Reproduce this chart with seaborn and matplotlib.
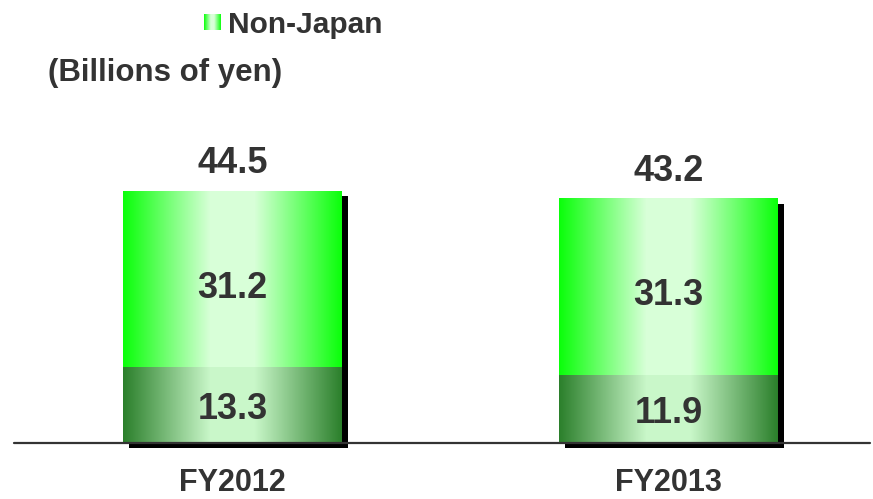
import numpy as np
import pandas as pd
import matplotlib
matplotlib.use("Agg")
import matplotlib.pyplot as plt
import matplotlib.transforms as mtransforms
from matplotlib.patches import Rectangle
import seaborn as sns

# Sales by region (billions of yen)
categories = ["FY2012", "FY2013"]
japan = [13.3, 11.9]
non_japan = [31.2, 31.3]
totals = [44.5, 43.2]

sns.set_style("white")
plt.rcParams["font.family"] = ["Liberation Sans", "DejaVu Sans"]
plt.rcParams["font.weight"] = "bold"

TEXT = "#333333"
DPI = 100
W, H = 873, 499

fig = plt.figure(figsize=(W / DPI, H / DPI), dpi=DPI)
ax = fig.add_axes([14 / W, 56 / H, 856 / W, 433 / H])

df_total = pd.DataFrame({"year": categories, "value": totals})
df_japan = pd.DataFrame({"year": categories, "value": japan})

BAR_W = 0.502
sns.barplot(data=df_total, x="year", y="value", width=BAR_W, color="#22ff22",
            errorbar=None, ax=ax, zorder=2)
n_top = len(ax.patches)
sns.barplot(data=df_japan, x="year", y="value", width=BAR_W, color="#2b8a2b",
            errorbar=None, ax=ax, zorder=3)

for s in ax.spines.values():
    s.set_visible(False)
ax.set_xticks([])
ax.set_yticks([])
ax.set_xlabel("")
ax.set_ylabel("")


def gradient(edge, center, n=256):
    t = np.linspace(0, 1, n)
    d = np.abs(t - 0.5) * 2
    f = np.clip((d - 0.2) / 0.8, 0, 1)
    edge = np.array(edge)
    center = np.array(center)
    img = center[None, :] + (edge - center)[None, :] * f[:, None]
    return img[None, :, :]


top_grad = gradient((0.04, 1.0, 0.04), (0.85, 1.0, 0.85))
bot_grad = gradient((0.17, 0.50, 0.17), (0.79, 0.97, 0.79))

shadow_tf = ax.transData + mtransforms.ScaledTranslation(6 / DPI, -5 / DPI, fig.dpi_scale_trans)

patches = list(ax.patches)
for i, p in enumerate(patches):
    x0, y0 = p.get_x(), p.get_y()
    w, h = p.get_width(), p.get_height()
    p.set_facecolor("none")
    p.set_edgecolor("none")
    if i < n_top:
        # drop shadow behind the whole column
        ax.add_patch(Rectangle((x0, y0), w, h, facecolor="black", edgecolor="none",
                               transform=shadow_tf, zorder=1, clip_on=False))
        ax.imshow(top_grad, extent=(x0, x0 + w, y0, y0 + h), aspect="auto",
                  interpolation="bilinear", zorder=2)
    else:
        ax.imshow(bot_grad, extent=(x0, x0 + w, y0, y0 + h), aspect="auto",
                  interpolation="bilinear", zorder=3)

ax.set_xlim(-0.501, 1.462)
ax.set_ylim(0, 76.57)

# baseline
ax.axhline(0, color=TEXT, lw=1.6, zorder=5, clip_on=False)

PT = 72 / DPI  # points per pixel
FS_VAL = 26

for i in range(len(categories)):
    ax.annotate(f"{totals[i]:.1f}", (i, totals[i]), xytext=(0, 18 * PT),
                textcoords="offset points", ha="center", va="baseline",
                fontsize=FS_VAL, fontweight="bold", color=TEXT, zorder=6)
    mid_top = japan[i] + non_japan[i] / 2
    ax.annotate(f"{non_japan[i]:.1f}", (i, mid_top), xytext=(0, -18 * PT),
                textcoords="offset points", ha="center", va="baseline",
                fontsize=FS_VAL, fontweight="bold", color=TEXT, zorder=6)
    mid_bot = japan[i] / 2
    ax.annotate(f"{japan[i]:.1f}", (i, mid_bot), xytext=(0, -14 * PT),
                textcoords="offset points", ha="center", va="baseline",
                fontsize=FS_VAL, fontweight="bold", color=TEXT, zorder=6)
    ax.annotate(categories[i], (i, 0), xytext=(0, -55 * PT),
                textcoords="offset points", ha="center", va="bottom",
                fontsize=22, fontweight="bold", color=TEXT, annotation_clip=False)

# legend swatch and label
lax = fig.add_axes([204 / W, 1 - 30 / H, 17 / W, 16 / H])
lax.imshow(top_grad, aspect="auto", interpolation="bilinear")
lax.axis("off")
fig.text(228 / W, 1 - 33 / H, "Non-Japan", ha="left", va="baseline",
         fontsize=21.5, fontweight="bold", color=TEXT)

fig.text(48 / W, 1 - 81 / H, "(Billions of yen)", ha="left", va="baseline",
         fontsize=22.5, fontweight="bold", color=TEXT)

fig.savefig("out.png", dpi=DPI)
